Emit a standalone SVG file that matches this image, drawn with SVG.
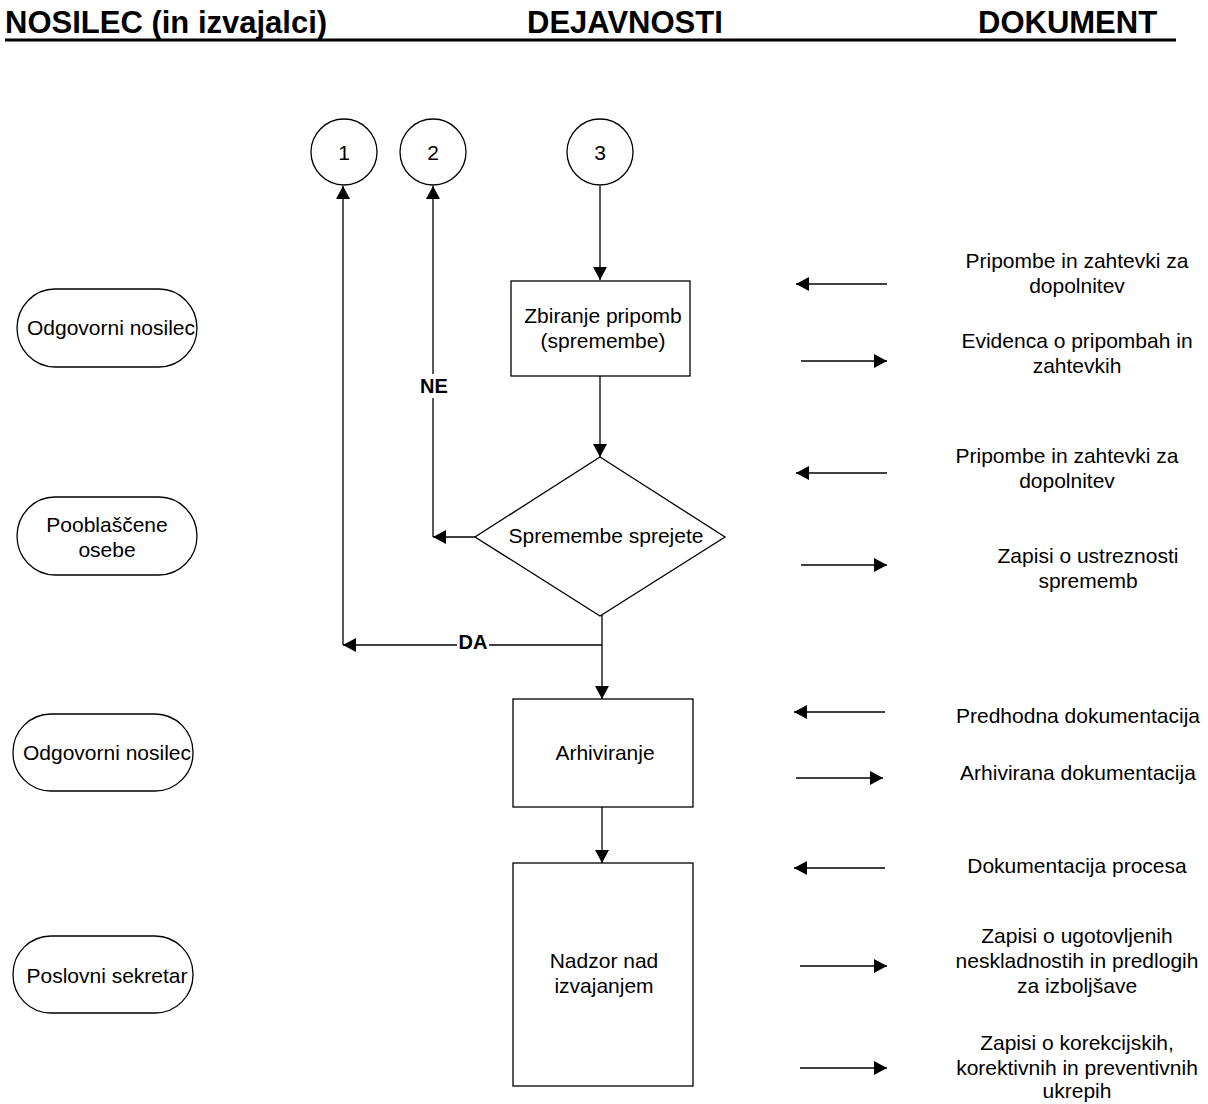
<svg xmlns="http://www.w3.org/2000/svg" width="1208" height="1104" viewBox="0 0 1208 1104">
<style>
.t{font-family:"Liberation Sans",Arial,sans-serif;font-size:21px;fill:#000;text-anchor:middle}
.h{font-family:"Liberation Sans",Arial,sans-serif;font-size:31px;font-weight:bold;fill:#000}
.b{font-family:"Liberation Sans",Arial,sans-serif;font-size:20px;font-weight:bold;fill:#000;text-anchor:middle}
.s{fill:#fff;stroke:#000;stroke-width:1.3}
.c{fill:none;stroke:#000;stroke-width:1.3}
</style>
<defs>
<marker id="ah" markerUnits="userSpaceOnUse" markerWidth="14" markerHeight="14" refX="13" refY="7" orient="auto">
<path d="M0,0 L13,7 L0,14 Z" fill="#000"/>
</marker>
</defs>
<rect width="1208" height="1104" fill="#fff"/>
<g id="header">
<text class="h" x="5" y="33">NOSILEC (in izvajalci)</text>
<text class="h" x="527" y="33">DEJAVNOSTI</text>
<text class="h" x="978" y="33">DOKUMENT</text>
<line x1="5" y1="40" x2="1176" y2="40" stroke="#000" stroke-width="3"/>
</g>
<g id="connectors">
<line class="c" x1="600" y1="186" x2="600" y2="280" marker-end="url(#ah)"/>
<line class="c" x1="600" y1="376" x2="600" y2="457" marker-end="url(#ah)"/>
<line class="c" x1="475" y1="537" x2="433" y2="537" marker-end="url(#ah)"/>
<line class="c" x1="433" y1="537" x2="433" y2="186" marker-end="url(#ah)"/>
<line class="c" x1="602" y1="615" x2="602" y2="699" marker-end="url(#ah)"/>
<line class="c" x1="602" y1="645" x2="343" y2="645" marker-end="url(#ah)"/>
<line class="c" x1="343" y1="645" x2="343" y2="186" marker-end="url(#ah)"/>
<line class="c" x1="602" y1="807" x2="602" y2="863" marker-end="url(#ah)"/>
<line class="c" x1="887" y1="284" x2="796" y2="284" marker-end="url(#ah)"/>
<line class="c" x1="801" y1="361" x2="887" y2="361" marker-end="url(#ah)"/>
<line class="c" x1="887" y1="473" x2="796" y2="473" marker-end="url(#ah)"/>
<line class="c" x1="801" y1="565" x2="887" y2="565" marker-end="url(#ah)"/>
<line class="c" x1="885" y1="712" x2="794" y2="712" marker-end="url(#ah)"/>
<line class="c" x1="796" y1="778" x2="883" y2="778" marker-end="url(#ah)"/>
<line class="c" x1="885" y1="868" x2="794" y2="868" marker-end="url(#ah)"/>
<line class="c" x1="800" y1="966" x2="887" y2="966" marker-end="url(#ah)"/>
<line class="c" x1="800" y1="1068" x2="887" y2="1068" marker-end="url(#ah)"/>
<rect x="419" y="374" width="30" height="24" fill="#fff"/>
<text class="b" x="434" y="393">NE</text>
<rect x="457" y="634" width="32" height="20" fill="#fff"/>
<text class="b" x="473" y="649">DA</text>
</g>
<g id="c1"><circle class="s" cx="344" cy="152" r="33"/><text class="t" x="344" y="160">1</text></g>
<g id="c2"><circle class="s" cx="433" cy="152" r="33"/><text class="t" x="433" y="160">2</text></g>
<g id="c3"><circle class="s" cx="600" cy="152" r="33"/><text class="t" x="600" y="160">3</text></g>
<g id="zbiranje"><rect class="s" x="511" y="281" width="179" height="95"/><text class="t" x="603" y="323">Zbiranje pripomb</text><text class="t" x="603" y="348">(spremembe)</text></g>
<g id="decision"><polygon class="s" points="600,457 725,537 600,616 475,537"/><text class="t" x="606" y="543">Spremembe sprejete</text></g>
<g id="arhiviranje"><rect class="s" x="513" y="699" width="180" height="108"/><text class="t" x="605" y="760">Arhiviranje</text></g>
<g id="nadzor"><rect class="s" x="513" y="863" width="180" height="223"/><text class="t" x="604" y="968">Nadzor nad</text><text class="t" x="604" y="993">izvajanjem</text></g>
<g id="n1"><rect class="s" x="17" y="289" width="180" height="78" rx="38" ry="39"/><text class="t" x="111" y="335">Odgovorni nosilec</text></g>
<g id="n2"><rect class="s" x="17" y="497" width="180" height="78" rx="38" ry="39"/><text class="t" x="107" y="532">Pooblaščene</text><text class="t" x="107" y="557">osebe</text></g>
<g id="n3"><rect class="s" x="13" y="714" width="180" height="77" rx="38" ry="38"/><text class="t" x="107" y="760">Odgovorni nosilec</text></g>
<g id="n4"><rect class="s" x="13" y="936" width="180" height="77" rx="38" ry="38"/><text class="t" x="107" y="983">Poslovni sekretar</text></g>
<g id="docs">
<text class="t" x="1077" y="268">Pripombe in zahtevki za</text><text class="t" x="1077" y="293">dopolnitev</text>
<text class="t" x="1077" y="348">Evidenca o pripombah in</text><text class="t" x="1077" y="373">zahtevkih</text>
<text class="t" x="1067" y="463">Pripombe in zahtevki za</text><text class="t" x="1067" y="488">dopolnitev</text>
<text class="t" x="1088" y="563">Zapisi o ustreznosti</text><text class="t" x="1088" y="588">sprememb</text>
<text class="t" x="1078" y="723">Predhodna dokumentacija</text>
<text class="t" x="1078" y="780">Arhivirana dokumentacija</text>
<text class="t" x="1077" y="873">Dokumentacija procesa</text>
<text class="t" x="1077" y="943">Zapisi o ugotovljenih</text><text class="t" x="1077" y="968">neskladnostih in predlogih</text><text class="t" x="1077" y="993">za izboljšave</text>
<text class="t" x="1077" y="1050">Zapisi o korekcijskih,</text><text class="t" x="1077" y="1075">korektivnih in preventivnih</text><text class="t" x="1077" y="1098">ukrepih</text>
</g>
</svg>
